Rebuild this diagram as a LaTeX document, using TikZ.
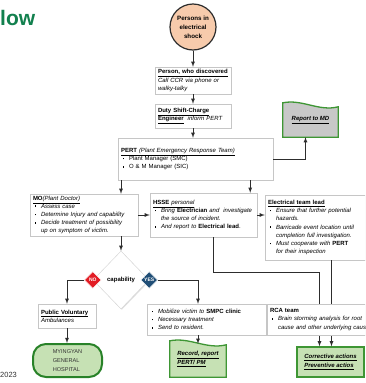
\documentclass[tikz,border=0pt]{standalone}
\usepackage{fontspec}
\setmainfont{Liberation Sans}
\usetikzlibrary{shapes.geometric,shadows,backgrounds,calc}
\definecolor{titlegreen}{RGB}{18,128,78}
\definecolor{edgegreen}{RGB}{62,150,52}
\definecolor{hospgreen}{RGB}{40,130,40}
\definecolor{lightgreen}{RGB}{198,225,180}
\definecolor{peach}{RGB}{247,203,172}
\definecolor{nored}{RGB}{226,28,36}
\definecolor{yesblue}{RGB}{32,78,118}
\definecolor{linegray}{RGB}{45,45,45}
\definecolor{mdgray}{RGB}{200,200,200}
\newcommand{\bitem}{\makebox[8pt][l]{\hspace{1.5pt}\rule[1.2pt]{1.7pt}{1.7pt}}}
\newcommand{\bcont}{\hspace*{8pt}}

\begin{document}
\begin{tikzpicture}[x=1pt,y=-1pt,>=latex,
  every node/.style={font=\fontsize{6}{8.2}\selectfont},
  box/.style={draw=gray!45,fill=white,drop shadow={opacity=0.25,shadow xshift=0.8pt,shadow yshift=-0.8pt},inner xsep=3pt,inner ysep=0pt,align=left},
  gbox/.style={draw=edgegreen,line width=1.3pt,fill=lightgreen,inner sep=0pt,align=left},
  tag/.style={diamond,minimum size=17pt,inner sep=0pt,draw=white,line width=0.5pt,text=white,font=\fontsize{5}{5}\selectfont\bfseries},
  link/.style={->,linegray,line width=0.8pt}]
\useasboundingbox (0,0) rectangle (365,383);
\clip (0,0) rectangle (365,383);
\node[anchor=base west,inner sep=0pt,text=titlegreen,font=\fontsize{21}{21}\selectfont\bfseries] (title) at (0,25) {low};
\node[anchor=west,inner sep=0pt,text=black!80,font=\fontsize{7.5}{7.5}\selectfont] (year) at (0,375) {2023};
\node[circle,draw=linegray,line width=1.2pt,fill=peach,minimum size=46pt,inner sep=0pt,align=center,font=\fontsize{6.2}{9}\selectfont\bfseries] (shock) at (193,27) {Persons in\\electrical\\shock};
\node[box,text width=70pt,minimum height=27pt] (person) at (193,80.5) {\underline{\textbf{Person, who discovered}}\\\textit{Call CCR via phone or}\\\textit{walky-talky}};
\node[box,text width=70pt,minimum height=24pt] (duty) at (193,116) {\underline{\textbf{Duty Shift-Charge}}\\\underline{\textbf{Engineer}}~~\textit{inform PERT}};
\node[box,text width=149pt,minimum height=42pt] (pert) at (195.5,159) {\underline{\textbf{PERT} \textit{(Plant Emergency Response Team)}}\\\bitem Plant Manager (SMC)\\\bitem O \& M Manager (SIC)};
\node[inner sep=0pt,minimum width=55pt,minimum height=34pt,font=\fontsize{6}{8.2}\selectfont\bfseries\itshape] (rep) at (310.5,120) {\underline{Report to MD}};
\node[box,text width=102pt,minimum height=42pt] (mo) at (84,215) {\underline{\textbf{MO}\textit{(Plant Doctor)}}\\\bitem\textit{Assess case}\\\bitem\textit{Determine Injury and capability}\\\bitem\textit{Decide treatment of possibility}\\\bcont\textit{up on symptom of victim.}};
\node[box,text width=101pt,minimum height=44pt] (hsse) at (203.5,215) {\underline{\textbf{HSSE} \textit{personal}}\\\bitem\textit{Bring} \textbf{Electrician} \textit{and~ investigate}\\\bcont\textit{the source of incident.}\\\bitem\textit{And report to} \textbf{Electrical lead}.};
\node[box,text width=95pt,minimum height=65pt] (ele) at (315.5,227.5) {\underline{\textbf{Electrical team lead}}\\\bitem\textit{Ensure that further potential}\\\bcont\textit{hazards.}\\\bitem\textit{Barricade event location until}\\\bcont\textit{completion full investigation.}\\\bitem\textit{Must cooperate with} \textbf{PERT}\\\bcont\textit{for their inspection}};
\node[diamond,draw=gray!35,fill=white,drop shadow={opacity=0.25,shadow xshift=0.8pt,shadow yshift=-0.8pt},minimum width=56pt,minimum height=58pt,inner sep=0pt,font=\fontsize{6}{8.2}\selectfont\bfseries] (dia) at (121,280) {capability};
\node[tag,fill=nored] (no) at (dia.west) {NO};
\node[tag,fill=yesblue] (yes) at (dia.east) {YES};
\node[box,text width=52pt,minimum height=24pt] (pub) at (67,316) {\underline{\textbf{Public Voluntary}}\\\textit{Ambulances}};
\node[box,text width=113pt,minimum height=31pt] (mob) at (206.5,319.5) {\bitem\textit{Mobilize victim to} \textbf{SMPC clinic}\\\bitem\textit{Necessary treatment}\\\bitem\textit{Send to resident.}};
\node[rounded corners=13pt,draw=hospgreen,line width=2pt,fill=lightgreen,minimum width=69pt,minimum height=33pt,align=left,text=black!80,font=\fontsize{5.6}{9}\selectfont] (hosp) at (67.5,360.5) {MYINGYAN\\GENERAL\\HOSPITAL};
\node[inner sep=0pt,minimum width=56pt,minimum height=36pt,align=left,font=\fontsize{6}{8.6}\selectfont\bfseries\itshape] (rec) at (198,359) {\underline{Record, report}\\\underline{PERT/ PM}};
\node[gbox,minimum width=67pt,minimum height=30pt,font=\fontsize{6}{8.6}\selectfont\bfseries\itshape] (cor) at (330.5,362) {\underline{Corrective actions}\\\underline{Preventive actios}};
\begin{pgfonlayer}{background}
\fill[white] (0,0) rectangle (365,383);
\filldraw[draw=edgegreen,line width=1.3pt,fill=mdgray] (rep.south west) -- (rep.north west)
  .. controls ([yshift=4pt]$(rep.north west)!0.35!(rep.north east)$) and ([yshift=-9pt]$(rep.north west)!0.65!(rep.north east)$) .. ([yshift=-4pt]rep.north east) -- (rep.south east) -- cycle;
\filldraw[draw=edgegreen,line width=1.3pt,fill=lightgreen] (rec.south west) -- (rec.north west)
  .. controls ([yshift=4pt]$(rec.north west)!0.35!(rec.north east)$) and ([yshift=-9pt]$(rec.north west)!0.65!(rec.north east)$) .. ([yshift=-4pt]rec.north east) -- (rec.south east) -- cycle;
\end{pgfonlayer}
\draw[link] (shock) -- (person);
\draw[link] (person) -- (duty);
\draw[link] (duty.south) -- (duty.south |- pert.north);
\draw[link] (pert.east) -| ([xshift=-5pt]rep.south);
\draw[link] (pert.south -| dia.north) -- (mo.north -| dia.north);
\coordinate (hin) at ([xshift=-7pt]hsse.north east);
\draw[link] (hin |- pert.south) -- (hin);
\draw[link] (mo) -- (hsse);
\draw[link] (hsse.east) -- (hsse.east -| ele.west);
\draw[link] (mo.south -| dia.north) -- (dia.north);
\draw[link] (no.west) -| (pub.north);
\draw[link] (yes.east) -| (mob.north -| rec.north);
\draw[link] (pub.south) -- (pub.south |- hosp.north);
\draw[link] (mob.south -| rec.north) -- ([yshift=-3pt]rec.north);
\coordinate (cin) at ([xshift=-11pt]cor.north);
\draw[link] ([xshift=10pt]hsse.south) -- ++(0,35) -| (cin);
\coordinate (cin2) at ([xshift=1pt]cor.north);
\draw[link] (cin2 |- ele.south) -- (cin2);
\node[box,text width=112pt,minimum height=31pt] (rca) at (326,319.5) {\textbf{RCA team}\\\bitem\textit{Brain storming analysis for root}\\\bcont\textit{cause and other underlying causes.}};
\end{tikzpicture}
\end{document}
